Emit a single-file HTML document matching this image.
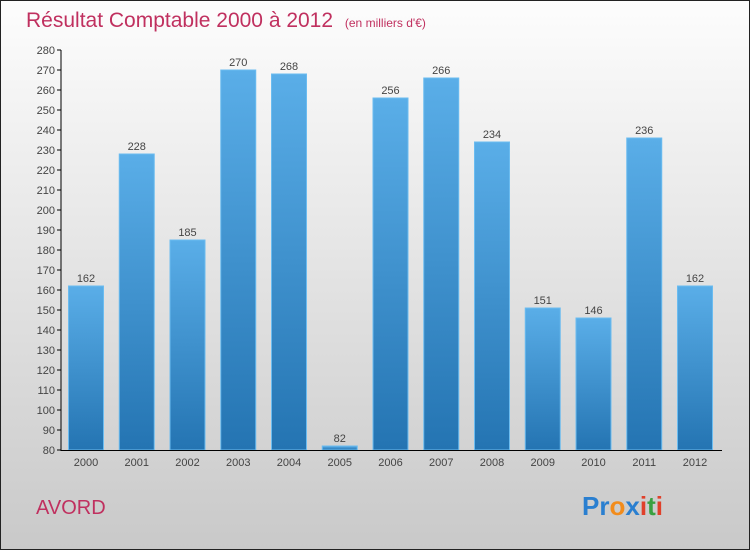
<!DOCTYPE html>
<html><head><meta charset="utf-8"><style>
body{margin:0;width:750px;height:550px;overflow:hidden;font-family:"Liberation Sans",sans-serif}
</style></head><body>
<svg id="c" width="750" height="550" xmlns="http://www.w3.org/2000/svg">
<defs>
<linearGradient id="bg" x1="0" y1="0" x2="0" y2="1"><stop offset="0" stop-color="#fdfdfd"/><stop offset="1" stop-color="#c9c9c9"/></linearGradient>
<linearGradient id="bar" x1="0" y1="0" x2="0" y2="1"><stop offset="0" stop-color="#5aaee8"/><stop offset="1" stop-color="#2474b2"/></linearGradient>
</defs>
<rect x="0.5" y="0.5" width="749" height="549" fill="url(#bg)" stroke="#222"/>
<text x="26" y="27" font-size="21" fill="#c0305f">Résultat Comptable 2000 à 2012 <tspan font-size="12" dx="6">(en milliers d'€)</tspan></text>
<g id="plot"></g>
<text x="36" y="514" font-size="20" fill="#c0305f">AVORD</text>
<text x="582" y="515" font-size="26" font-weight="bold"><tspan fill="#2a7fd0">Pr</tspan><tspan fill="#f28c1c">o</tspan><tspan fill="#2a7fd0">x</tspan><tspan fill="#e0402a">i</tspan><tspan fill="#3aa040">t</tspan><tspan fill="#e0402a">i</tspan></text>
</svg>
<script>
const categories=["2000","2001","2002","2003","2004","2005","2006","2007","2008","2009","2010","2011","2012"];
const values=[162,228,185,270,268,82,256,266,234,151,146,236,162];
const ticks=[80,90,100,110,120,130,140,150,160,170,180,190,200,210,220,230,240,250,260,270,280];
const NS="http://www.w3.org/2000/svg";
const g=document.getElementById('plot');
const y=v=>450-(v-80)*2;
const x=i=>86+i*50.75;
function mk(t,a,p){const e=document.createElementNS(NS,t);for(const k in a)e.setAttribute(k,a[k]);(p||g).appendChild(e);return e;}
ticks.forEach(t=>{
 const l=mk('line',{x1:57,x2:61,y1:y(t),y2:y(t),stroke:'#000'});
 
 
 const tx=mk('text',{x:55,y:y(t)+4,'text-anchor':'end','font-size':11,fill:'#444'});
 tx.textContent=t;
 
 
});
values.forEach((v,i)=>{
 const r=mk('rect',{x:x(i)-17.5,y:y(v),width:35,height:450-y(v),fill:'url(#bar)',stroke:'#6bbcf0','stroke-width':1});
 
 
 const t=mk('text',{x:x(i),y:y(v)-4,'text-anchor':'middle','font-size':11,fill:'#444'});
 t.textContent=v;
 
 
 const c=mk('text',{x:x(i),y:466,'text-anchor':'middle','font-size':11,fill:'#444'});
 c.textContent=categories[i];
 
 
});
const ya=mk('line',{x1:61,x2:61,y1:50,y2:451,stroke:'#000'});


const xa=mk('line',{x1:61,x2:722,y1:450.5,y2:450.5,stroke:'#000'});


</script>
</body></html>
